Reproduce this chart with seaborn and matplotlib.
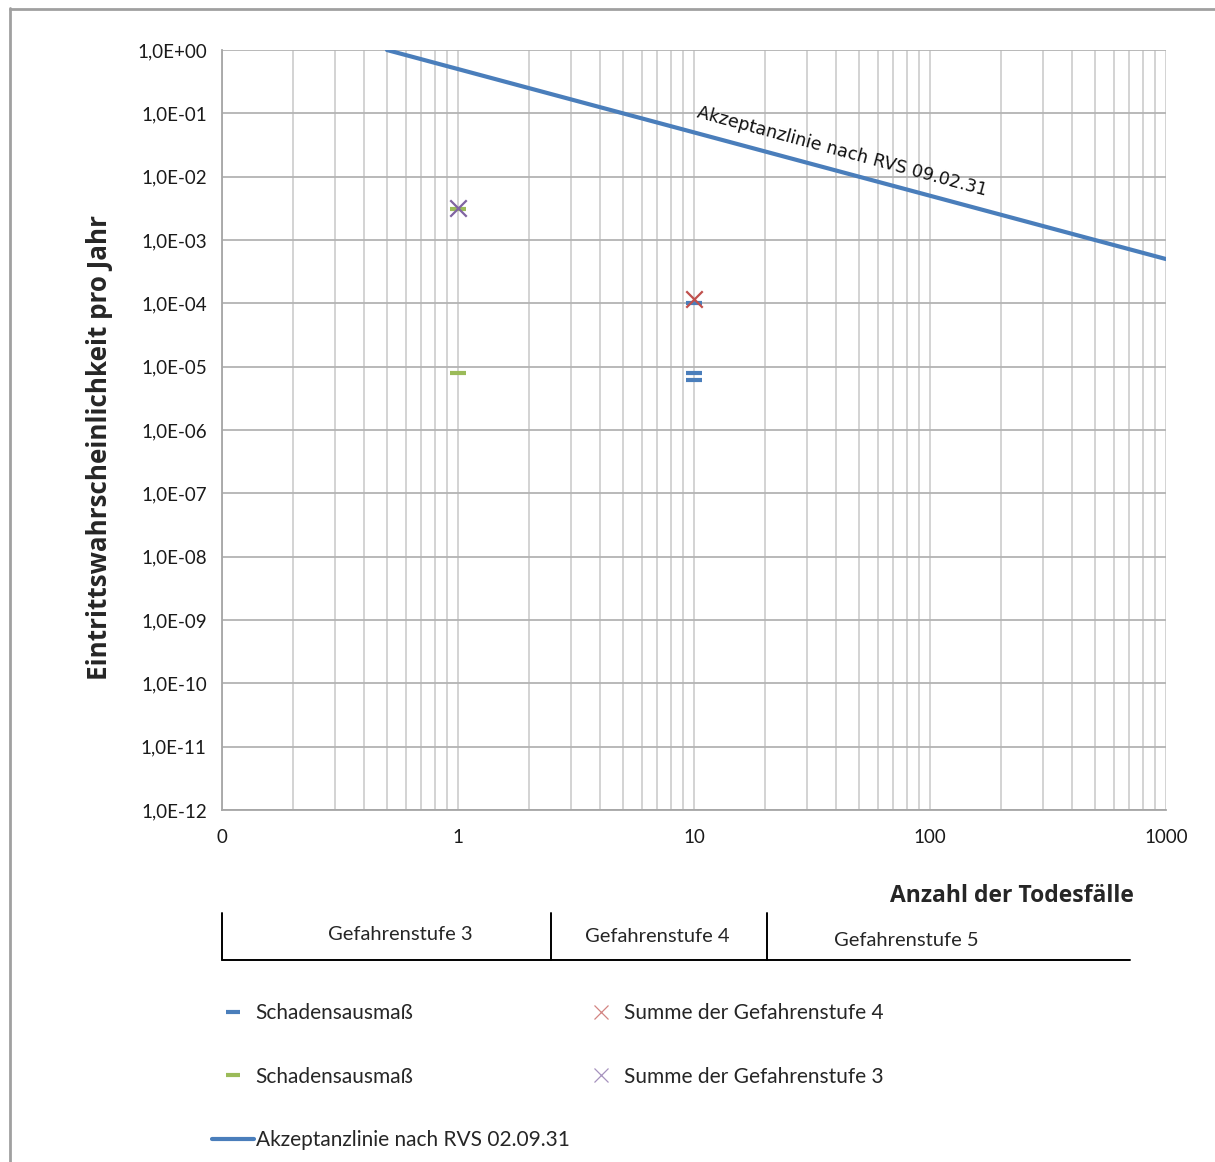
import numpy as np
import pandas as pd
import matplotlib
matplotlib.use("Agg")
import matplotlib.pyplot as plt
from matplotlib.lines import Line2D
from matplotlib.ticker import FixedLocator, FuncFormatter, LogLocator, NullFormatter
import seaborn as sns

# ---- data ----
line_x = [0.5, 1000]
line_y = [1.0, 5e-4]

blue_x = [10, 10, 10]
blue_y = [1.0e-4, 7.9e-6, 6.2e-6]

green_x = [1, 1]
green_y = [3.1e-3, 7.9e-6]

red_x = [10]
red_y = [1.15e-4]

purple_x = [1]
purple_y = [3.2e-3]

x_ticks = [0.1, 1, 10, 100, 1000]
x_ticklabels = ["0", "1", "10", "100", "1000"]
y_exps = list(range(0, -13, -1))

stufen = ["Gefahrenstufe 3", "Gefahrenstufe 4", "Gefahrenstufe 5"]

BLUE = "#4a7ebb"
GREEN = "#9bbb59"
RED = "#c0504d"
PURPLE = "#8064a2"

sns.set_style("white")
plt.rcParams["font.family"] = ["Lato", "DejaVu Sans"]

W, H = 1215, 1162
fig = plt.figure(figsize=(W / 100, H / 100), dpi=100)

def fx(px):
    return px / W

def fy(py):
    return 1 - py / H

ax = fig.add_axes([fx(222), fy(810), fx(1166) - fx(222), fy(50) - fy(810)])
ax.set_xscale("log")
ax.set_yscale("log")
ax.set_xlim(0.1, 1000)
ax.set_ylim(1e-12, 1.0)

# grid
ax.xaxis.set_major_locator(FixedLocator(x_ticks))
ax.xaxis.set_minor_locator(LogLocator(base=10, subs=np.arange(2, 10)))
ax.xaxis.set_minor_formatter(NullFormatter())
ax.set_xticks(x_ticks)
ax.set_xticklabels(x_ticklabels)
yt = [10.0 ** e for e in y_exps]
ax.set_yticks(yt)
ax.set_yticklabels([f"1,0E{e:+03d}" for e in y_exps])
ax.yaxis.set_minor_locator(FixedLocator([]))
ax.grid(True, which="major", axis="y", color="#b3b3b3", lw=1.3)
ax.grid(True, which="both", axis="x", color="#d0d0d0", lw=1.3)
ax.set_axisbelow(True)
for s in ["top", "right"]:
    ax.spines[s].set_visible(False)
for s in ["left", "bottom"]:
    ax.spines[s].set_color("#a6a6a6")
    ax.spines[s].set_linewidth(1.3)
ax.tick_params(axis="both", which="major", direction="out", length=6, width=1.2,
               color="#a6a6a6", labelsize=13.5, labelcolor="#1a1a1a")
ax.tick_params(axis="x", which="minor", length=0)
ax.tick_params(axis="x", pad=8)
ax.tick_params(axis="y", pad=5)

# acceptance line
sns.lineplot(x=line_x, y=line_y, ax=ax, color=BLUE, lw=3, legend=False)
ax.text(10.2, 0.087, "Akzeptanzlinie nach RVS 09.02.31", rotation=-15.2,
        rotation_mode="anchor", ha="left", va="baseline", fontsize=12.6,
        family=["DejaVu Sans"], color="#111111")

# markers
sns.scatterplot(x=green_x, y=green_y, ax=ax, marker="_", s=140, color=GREEN,
                linewidth=3, legend=False, zorder=4)
sns.scatterplot(x=blue_x, y=blue_y, ax=ax, marker="_", s=140, color=BLUE,
                linewidth=3, legend=False, zorder=4)
sns.scatterplot(x=purple_x, y=purple_y, ax=ax, marker="x", s=140, color=PURPLE,
                linewidth=1.6, legend=False, zorder=5)
sns.scatterplot(x=red_x, y=red_y, ax=ax, marker="x", s=140, color=RED,
                linewidth=1.6, legend=False, zorder=5)
ax.set_xlabel("")
ax.set_ylabel("")

# axis titles
fig.text(fx(100), fy(447), "Eintrittswahrscheinlichkeit pro Jahr", rotation=90,
         ha="center", va="center", fontsize=18.7, fontweight="bold",
         family=["Open Sans", "DejaVu Sans"])
fig.text(fx(1134), fy(896), "Anzahl der Todesfälle", ha="right", va="center",
         fontsize=16.5, fontweight="bold", family=["Open Sans", "DejaVu Sans"])

# Gefahrenstufen table
for xs, xe, ys, ye in [(222, 1130, 960, 960), (222, 222, 913, 960),
                       (551, 551, 913, 960), (767, 767, 913, 960)]:
    fig.add_artist(Line2D([fx(xs), fx(xe)], [fy(ys), fy(ye)], color="black", lw=1.4))
for label, px, py in zip(stufen, [400, 657, 906], [935, 937, 941]):
    fig.text(fx(px), fy(py), label, ha="center", va="center", fontsize=14.5)

# legend
handles = [
    Line2D([], [], color=BLUE, marker="_", ls="none", markersize=10, mew=3),
    Line2D([], [], color=GREEN, marker="_", ls="none", markersize=10, mew=3),
    Line2D([], [], color=BLUE, lw=3),
    Line2D([], [], color=RED, marker="x", ls="none", markersize=10, mew=0.9, alpha=0.7),
    Line2D([], [], color=PURPLE, marker="x", ls="none", markersize=10, mew=0.9, alpha=0.7),
]
labels = ["Schadensausmaß", "Schadensausmaß", "Akzeptanzlinie nach RVS 02.09.31",
          "Summe der Gefahrenstufe 4", "Summe der Gefahrenstufe 3"]
fig.legend(handles, labels, loc="upper left", bbox_to_anchor=(fx(212), fy(1003)),
           ncol=2, frameon=False, fontsize=15, handlelength=2.0, handletextpad=0.1,
           labelspacing=2.1, columnspacing=0.5, borderpad=0, borderaxespad=0)

# figure border (left & top)
fig.add_artist(Line2D([fx(10), fx(10)], [fy(8), fy(1162)], color="#a0a0a0", lw=2))
fig.add_artist(Line2D([fx(10), fx(1215)], [fy(9), fy(9)], color="#a0a0a0", lw=2))

fig.savefig("out.png", dpi=100)
